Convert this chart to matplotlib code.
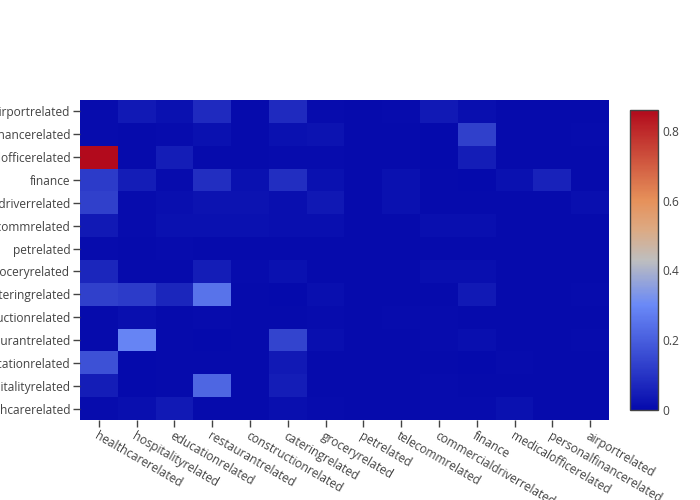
import matplotlib.pyplot as plt
import numpy as np
from matplotlib.colors import LinearSegmentedColormap

plt.rcParams["font.family"] = ["Open Sans", "DejaVu Sans"]

# categories, same order on both axes (y from bottom to top)
labels = ["healthcarerelated", "hospitalityrelated", "educationrelated",
          "restaurantrelated", "constructionrelated", "cateringrelated",
          "groceryrelated", "petrelated", "telecommrelated",
          "commercialdriverrelated", "finance", "medicalofficerelated",
          "personalfinancerelated", "airportrelated"]

# one list per y row, bottom row first
healthcare_row = [0.01, 0.015, 0.04, 0.005, 0.005, 0.015, 0.01, 0.005, 0.005, 0.01, 0.01, 0.02, 0.005, 0.005]
hospitality_row = [0.05, 0.0, 0.005, 0.22, 0.005, 0.05, 0.005, 0.005, 0.005, 0.01, 0.005, 0.005, 0.005, 0.005]
education_row = [0.17, 0.0, 0.005, 0.005, 0.005, 0.04, 0.005, 0.005, 0.005, 0.005, 0.0, 0.01, 0.005, 0.005]
restaurant_row = [0.005, 0.29, 0.005, 0.0, 0.005, 0.14, 0.015, 0.005, 0.005, 0.01, 0.015, 0.005, 0.005, 0.01]
construction_row = [0.005, 0.015, 0.005, 0.01, 0.005, 0.005, 0.01, 0.005, 0.01, 0.01, 0.005, 0.005, 0.005, 0.005]
catering_row = [0.13, 0.12, 0.07, 0.25, 0.005, 0.0, 0.015, 0.005, 0.005, 0.005, 0.04, 0.005, 0.005, 0.01]
grocery_row = [0.07, 0.005, 0.005, 0.05, 0.01, 0.02, 0.005, 0.005, 0.005, 0.015, 0.015, 0.005, 0.005, 0.005]
pet_row = [0.01, 0.005, 0.01, 0.005, 0.005, 0.005, 0.005, 0.005, 0.005, 0.005, 0.005, 0.005, 0.005, 0.005]
telecomm_row = [0.04, 0.01, 0.02, 0.02, 0.02, 0.015, 0.015, 0.005, 0.005, 0.015, 0.015, 0.005, 0.005, 0.005]
commercialdriver_row = [0.13, 0.01, 0.015, 0.025, 0.025, 0.015, 0.035, 0.005, 0.02, 0.005, 0.005, 0.005, 0.005, 0.015]
finance_row = [0.12, 0.05, 0.01, 0.09, 0.02, 0.09, 0.02, 0.005, 0.02, 0.005, 0.0, 0.02, 0.06, 0.005]
medicaloffice_row = [0.86, 0.005, 0.05, 0.005, 0.005, 0.01, 0.01, 0.005, 0.005, 0.0, 0.05, 0.005, 0.005, 0.005]
personalfinance_row = [0.01, 0.005, 0.01, 0.02, 0.005, 0.02, 0.025, 0.005, 0.005, 0.0, 0.13, 0.005, 0.005, 0.01]
airport_row = [0.01, 0.04, 0.02, 0.08, 0.005, 0.08, 0.01, 0.005, 0.01, 0.04, 0.015, 0.005, 0.005, 0.005]

z = np.array([healthcare_row, hospitality_row, education_row, restaurant_row,
              construction_row, catering_row, grocery_row, pet_row,
              telecomm_row, commercialdriver_row, finance_row,
              medicaloffice_row, personalfinance_row, airport_row])

# plotly's RdBu scale (blue at the low end)
stops = [(0.0, (5, 10, 172)), (0.35, (106, 137, 247)), (0.5, (190, 190, 190)),
         (0.6, (220, 170, 132)), (0.7, (230, 145, 90)), (1.0, (178, 10, 28))]
cmap = LinearSegmentedColormap.from_list(
    "plotly_rdbu", [(s, tuple(c / 255 for c in rgb)) for s, rgb in stops])

FS = 12 * 72 / 100  # 12 px text at 100 dpi


def main():
    fig = plt.figure(figsize=(7, 5), dpi=100)
    ax = fig.add_axes([80 / 700, 80 / 500, 529 / 700, 320 / 500])

    im = ax.imshow(z, cmap=cmap, vmin=0, vmax=0.86, aspect="auto",
                   origin="lower", interpolation="nearest")

    ax.set_xticks(range(len(labels)))
    ax.set_yticks(range(len(labels)))
    ax.set_xticklabels(labels, rotation=-30, ha="left", va="top",
                       rotation_mode="anchor")
    ax.set_yticklabels(labels)
    ax.tick_params(colors="#444444", labelsize=FS, length=5, width=1, pad=2)
    for lab in ax.get_xticklabels() + ax.get_yticklabels():
        lab.set_color("#444444")
    for s in ax.spines.values():
        s.set_visible(False)

    cax = fig.add_axes([630 / 700, 90 / 500, 28 / 700, 300 / 500])
    cb = fig.colorbar(im, cax=cax, ticks=[0, 0.2, 0.4, 0.6, 0.8])
    cb.ax.set_yticklabels(["0", "0.2", "0.4", "0.6", "0.8"])
    cb.ax.tick_params(length=0, pad=3, labelsize=FS, colors="#444444")
    cb.outline.set_edgecolor("#444444")
    cb.outline.set_linewidth(1)

    fig.savefig("out.png", dpi=100)


if __name__ == "__main__":
    main()
